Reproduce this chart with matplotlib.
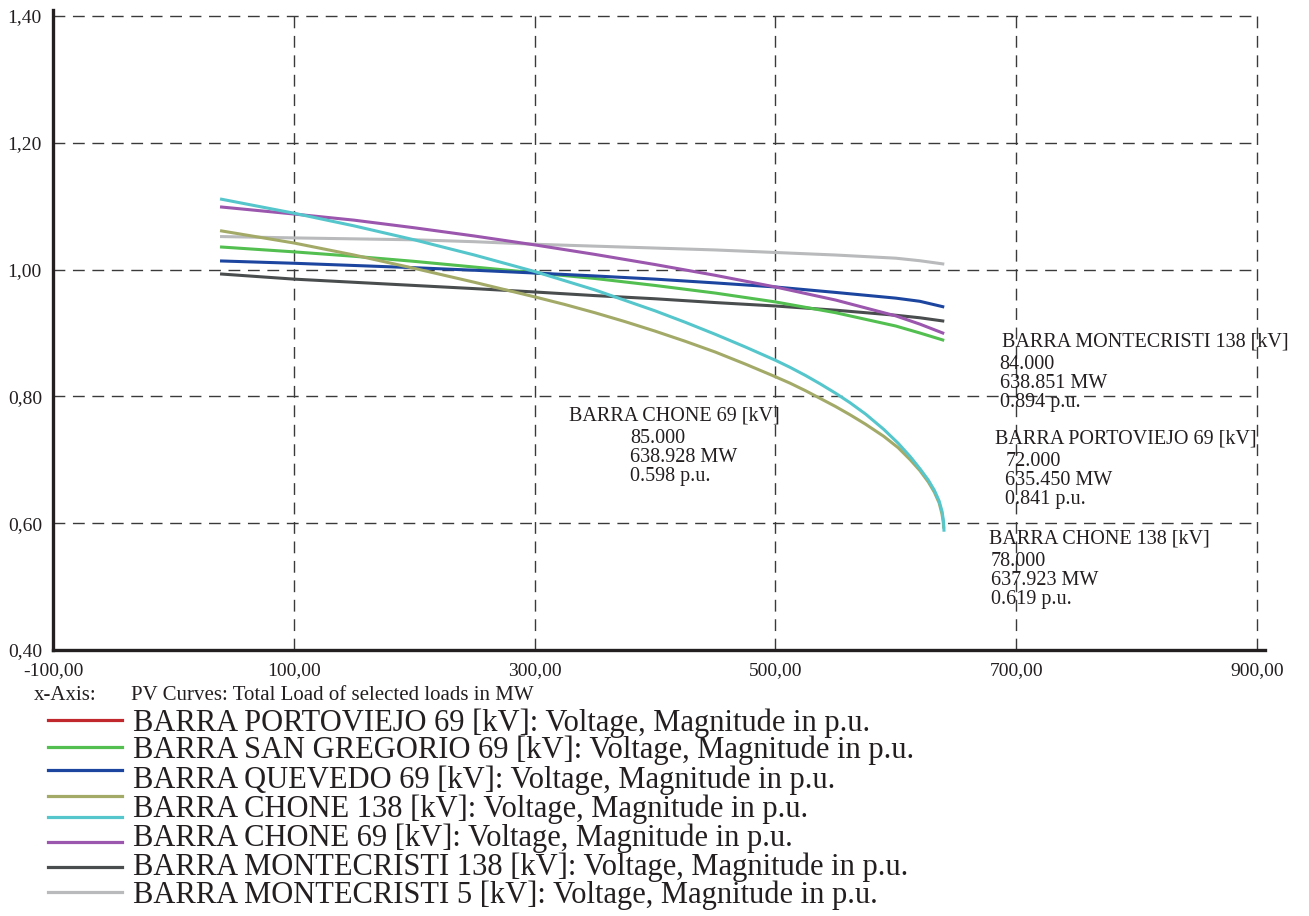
import numpy as np
import matplotlib
matplotlib.use("Agg")
import matplotlib.pyplot as plt
from matplotlib.ticker import FuncFormatter, FixedLocator
from matplotlib.lines import Line2D

plt.rcParams["font.family"] = ["Liberation Serif", "DejaVu Serif"]

# figure size in px
W, H = 1309, 916
TXT = "#231f20"

# PV curves, total load (MW) vs voltage (p.u.)
chone138_mw = [40, 100, 150, 200, 250, 300, 350, 400, 425, 450, 475, 500, 512,
               525, 537, 550, 562, 575, 590, 602, 612, 620, 627, 632, 636,
               638.5, 639.7, 640]
chone138_pu = [1.111, 1.089, 1.069, 1.047, 1.023, 0.997, 0.968, 0.935, 0.917,
               0.898, 0.878, 0.857, 0.846, 0.833, 0.820, 0.805, 0.790, 0.772,
               0.748, 0.726, 0.705, 0.686, 0.668, 0.652, 0.635, 0.618, 0.602,
               0.589]

olive_mw = [40, 100, 150, 200, 250, 300, 325, 350, 375, 400, 425, 450, 475,
            500, 512, 525, 537, 550, 562, 575, 590, 602, 612, 620, 627, 632,
            636, 638.3, 639.4, 639.7]
olive_pu = [1.061, 1.042, 1.023, 1.002, 0.980, 0.957, 0.945, 0.932, 0.918,
            0.903, 0.887, 0.870, 0.851, 0.831, 0.821, 0.809, 0.797, 0.784,
            0.771, 0.756, 0.737, 0.719, 0.700, 0.683, 0.665, 0.649, 0.632,
            0.615, 0.602, 0.594]

load_mw = [40, 100, 150, 200, 250, 300, 350, 400, 450, 500, 550, 600, 620, 639]
chone69_pu = [1.0987, 1.0877, 1.078, 1.066, 1.053, 1.039, 1.024, 1.008, 0.991,
              0.9726, 0.952, 0.927, 0.914, 0.900]
sangregorio_pu = [1.0356, 1.028, 1.021, 1.013, 1.004, 0.995, 0.986, 0.975,
                  0.963, 0.949, 0.932, 0.911, 0.900, 0.889]
quevedo_pu = [1.0136, 1.010, 1.0065, 1.003, 0.999, 0.9946, 0.990, 0.985,
              0.979, 0.9726, 0.964, 0.955, 0.950, 0.9415]
montecristi138_pu = [0.993, 0.985, 0.980, 0.975, 0.970, 0.9647, 0.959, 0.954,
                     0.948, 0.9426, 0.936, 0.928, 0.924, 0.919]
montecristi5_pu = [1.0521, 1.050, 1.0485, 1.047, 1.044, 1.040, 1.037, 1.034,
                   1.031, 1.027, 1.023, 1.018, 1.014, 1.009]

colors = {
    "red": "#c0282e",
    "green": "#52bf50",
    "blue": "#1c45a0",
    "olive": "#a3aa68",
    "cyan": "#55c6cb",
    "purple": "#9b56ad",
    "dark": "#4a4d4e",
    "grey": "#b8babb",
}

legend_colors = ["red", "green", "blue", "olive", "cyan", "purple", "dark", "grey"]
legend_labels = [
    "BARRA PORTOVIEJO 69 [kV]: Voltage, Magnitude in p.u.",
    "BARRA SAN GREGORIO 69 [kV]: Voltage, Magnitude in p.u.",
    "BARRA QUEVEDO 69 [kV]: Voltage, Magnitude in p.u.",
    "BARRA CHONE 138 [kV]: Voltage, Magnitude in p.u.",
    "BARRA CHONE 69 [kV]: Voltage, Magnitude in p.u.",
    "BARRA MONTECRISTI 138 [kV]: Voltage, Magnitude in p.u.",
    "BARRA MONTECRISTI 5 [kV]: Voltage, Magnitude in p.u.",
]

x_ticks = [-100, 100, 300, 500, 700, 900]
y_ticks = [0.4, 0.6, 0.8, 1.0, 1.2, 1.4]

# annotation blocks: (x, y of title baseline, title, x of value lines, lines)
annotations = [
    (328.7, 0.762, "BARRA CHONE 69 [kV]", 379.4, ["85.000", "638.928 MW", "0.598 p.u."]),
    (687.9, 0.879, "BARRA MONTECRISTI 138 [kV]", 686.3, ["84.000", "638.851 MW", "0.894 p.u."]),
    (682.1, 0.725, "BARRA PORTOVIEJO 69 [kV]", 691.0, ["72.000", "635.450 MW", "0.841 p.u."]),
    (677.1, 0.568, "BARRA CHONE 138 [kV]", 678.8, ["78.000", "637.923 MW", "0.619 p.u."]),
]


def fx(px):
    return px / W


def fy(py):
    return 1 - py / H


fig = plt.figure(figsize=(W / 100, H / 100), dpi=100)
ax = fig.add_axes([fx(53), fy(650), fx(1257) - fx(53), fy(16) - fy(650)])

ax.set_xlim(-100, 900)
ax.set_ylim(0.4, 1.4)

lw = 2.2
ax.plot(load_mw, montecristi5_pu, color=colors["grey"], lw=lw)
ax.plot(load_mw, montecristi138_pu, color=colors["dark"], lw=lw)
ax.plot(load_mw, sangregorio_pu, color=colors["green"], lw=lw)
ax.plot(load_mw, quevedo_pu, color=colors["blue"], lw=lw)
ax.plot(load_mw, chone69_pu, color=colors["purple"], lw=lw)
ax.plot(olive_mw, olive_pu, color=colors["olive"], lw=lw)
ax.plot(chone138_mw, chone138_pu, color=colors["cyan"], lw=lw)

ax.xaxis.set_major_locator(FixedLocator(x_ticks))
ax.yaxis.set_major_locator(FixedLocator(y_ticks))
ax.xaxis.set_major_formatter(FuncFormatter(lambda v, p: f"{v:.2f}".replace(".", ",")))
ax.yaxis.set_major_formatter(FuncFormatter(lambda v, p: f"{v:.2f}".replace(".", ",")))
ax.tick_params(axis="both", length=0, labelsize=14, colors=TXT)
ax.tick_params(axis="x", pad=9)
ax.tick_params(axis="y", pad=8)

ax.grid(True, color="#3a3a3a", linestyle=(0, (8.5, 5.5)), linewidth=1.0)
ax.set_axisbelow(True)
for gl in ax.get_xgridlines() + ax.get_ygridlines():
    gl.set_clip_on(False)

for s in ["top", "right"]:
    ax.spines[s].set_visible(False)
for s in ["left", "bottom"]:
    ax.spines[s].set_linewidth(2.4)
    ax.spines[s].set_color("#231f20")
ax.spines["left"].set_bounds(0.4, 1.4095)
ax.spines["bottom"].set_bounds(-100, 907)

for tx, ty, title, nx, lines in annotations:
    ax.text(tx, ty, title, fontsize=14.5, color=TXT, va="baseline", ha="left")
    for i, ln in enumerate(lines):
        ax.text(nx, ty - 0.0355 - i * 0.03, ln,
                fontsize=14.5, color=TXT, va="baseline", ha="left")

# x-axis description
fig.text(fx(34), fy(700), "x-Axis:", fontsize=15, color=TXT, va="baseline")
fig.text(fx(131), fy(700), "PV Curves: Total Load of selected loads in MW",
         fontsize=15, color=TXT, va="baseline")

# legend drawn by hand
line_y = [720, 746.7, 770, 796, 816.7, 841.7, 866.7, 892.3]
for c, y in zip(legend_colors, line_y):
    fig.add_artist(Line2D([fx(48), fx(122)], [fy(y), fy(y)], color=colors[c],
                          lw=2.3, transform=fig.transFigure))
text_base = [731, 758, 788, 817, 846, 875, 903]
for lab, y in zip(legend_labels, text_base):
    fig.text(fx(133), fy(y), lab, fontsize=22, color=TXT, va="baseline")

fig.savefig("out.png", dpi=100)
